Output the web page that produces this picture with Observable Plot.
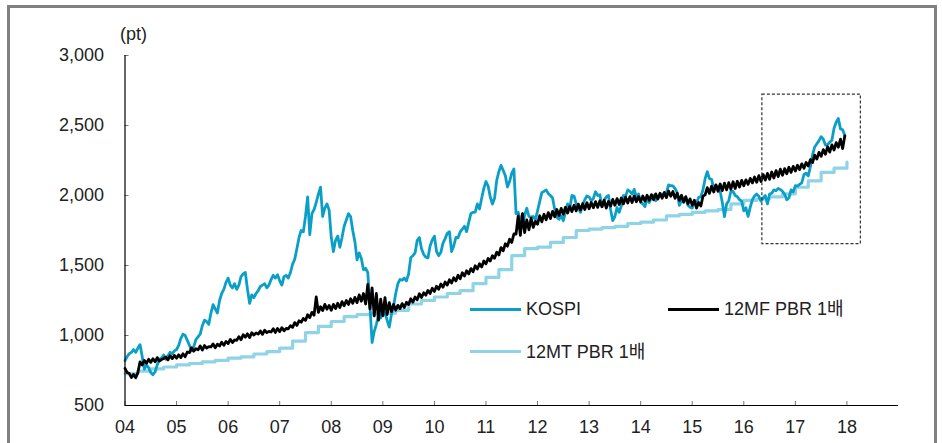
<!DOCTYPE html>
<html><head><meta charset="utf-8">
<script src="https://cdn.jsdelivr.net/npm/d3@7"></script>
<script src="https://cdn.jsdelivr.net/npm/@observablehq/plot@0.6"></script>
<style>
body{margin:0;background:#fff;font-family:"Liberation Sans","Noto Sans CJK KR",sans-serif;}
#wrap{position:relative;width:942px;height:443px;overflow:hidden;background:#fff;}
#frame{position:absolute;left:7px;top:5px;width:924px;height:470px;border:3px solid #808080;box-sizing:content-box;}
#chart{position:absolute;left:0;top:0;}
.lg{position:absolute;height:3px;}
.lt{position:absolute;font-size:18px;line-height:21px;color:#222;white-space:nowrap;}
#unit{position:absolute;left:120px;top:24px;font-size:18px;line-height:21px;color:#222;}
</style></head>
<body>
<div id="wrap">
  <div id="frame"></div>
  <div id="chart"></div>
  <div id="unit">(pt)</div>
</div>
<script>
// ---- data (semi-monthly, 2004.01 ~ 2017.12) ----
const seriesNames = ["KOSPI", "12MF PBR 1배", "12MT PBR 1배"];
const kospi = [
  820,850,870,880,900,880,910,935,850,760,790,770,735,720,740,790,830,840,860,830,855,880,870,890, // 2004
  900,930,980,1010,1000,965,930,890,920,970,990,1010,1070,1110,1100,1080,1160,1220,1190,1160,1250,1300,1330,1380, // 2005
  1410,1360,1340,1370,1330,1360,1420,1440,1450,1330,1230,1290,1270,1300,1320,1350,1360,1370,1340,1360,1400,1430,1410,1434, // 2006
  1390,1360,1420,1430,1410,1450,1510,1545,1620,1700,1750,1740,1850,1990,1720,1870,1900,1950,2010,2060,1850,1910,1940,1897, // 2007
  1700,1600,1680,1710,1630,1700,1780,1825,1870,1850,1750,1670,1540,1590,1550,1470,1480,1450,1210,950,1030,1080,1150,1124, // 2008
  1180,1160,1110,1060,1150,1210,1300,1370,1400,1395,1410,1390,1440,1557,1570,1590,1680,1700,1620,1580,1560,1555,1640,1682, // 2009
  1710,1600,1570,1594,1660,1692,1730,1741,1600,1640,1700,1698,1740,1759,1780,1742,1810,1872,1880,1882,1940,1904,1980,2051, // 2010
  2100,2069,1990,1939,1980,2107,2170,2215,2180,2142,2060,2100,2160,2190,1870,1880,1830,1770,1860,1909,1850,1847,1850,1826, // 2011
  1890,1956,2020,2030,2040,2014,2000,1982,1900,1843,1830,1854,1820,1881,1940,1905,2000,1996,1940,1912,1880,1933,1970,1997, // 2012
  1990,1961,1980,2027,2000,2005,1920,1964,1990,2001,1900,1820,1850,1914,1880,1926,2000,1997,2040,2030,2010,2044,1990,2011, // 2013
  1950,1941,1920,1980,1950,1986,2000,1962,1990,1995,2010,2002,2020,2076,2070,2068,2050,2020,1930,1964,1950,1981,1930,1916, // 2014
  1910,1949,1950,1986,1990,2041,2120,2170,2120,2115,2050,2074,2060,2030,1950,1850,1940,1963,2030,2029,2000,1991,1970,1961, // 2015
  1890,1912,1850,1917,1970,1996,2010,1994,1960,1983,2000,1940,2010,2016,2040,2034,2050,2043,2030,2008,1970,1983,2040,2026, // 2016
  2070,2067,2080,2091,2150,2160,2140,2205,2290,2347,2370,2392,2420,2402,2360,2363,2380,2394,2480,2523,2550,2476,2470,2430  // 2017
];
const mf = [
  765,735,728,700,722,698,735,812,790,822,802,830,808,834,812,842,818,828,836,846,826,856,835,858, // 2004
  838,862,842,870,848,882,878,912,888,905,898,925,896,928,910,920,918,940,912,938,925,952,930,958, // 2005
  942,972,950,968,965,992,970,1005,988,1012,985,1020,1004,1018,1010,1032,1008,1038,1020,1030,1025,1048,1022,1050, // 2006
  1028,1056,1034,1050,1048,1070,1058,1092,1072,1105,1095,1122,1108,1148,1128,1165,1145,1275,1165,1205,1178,1222,1188,1215, // 2007
  1180,1222,1192,1230,1200,1242,1212,1250,1222,1262,1230,1272,1235,1290,1245,1300,1225,1365,1190,1340,1140,1300,1110,1260, // 2008
  1140,1270,1150,1235,1170,1222,1180,1215,1192,1228,1200,1238,1222,1262,1238,1275,1255,1298,1272,1305,1288,1322,1300,1338, // 2009
  1315,1352,1330,1368,1345,1382,1360,1398,1375,1412,1390,1430,1405,1448,1425,1462,1440,1478,1455,1498,1475,1512,1490,1532, // 2010
  1512,1550,1532,1570,1552,1595,1575,1628,1605,1655,1638,1688,1665,1725,1725,1855,1715,1870,1735,1825,1755,1838,1772,1815, // 2011
  1795,1855,1812,1866,1826,1878,1835,1886,1848,1900,1856,1908,1866,1916,1875,1922,1885,1930,1890,1938,1896,1942,1900,1948, // 2012
  1905,1950,1912,1956,1915,1962,1920,1966,1910,1958,1925,1972,1930,1978,1936,1982,1940,1988,1946,1992,1950,1996,1955,1992, // 2013
  1955,1996,1960,2002,1966,2006,1970,2012,1975,2016,1980,2022,1985,2032,1995,2028,1980,2016,1965,2002,1955,1992,1940,1976, // 2014
  1930,1966,1910,1950,1925,1995,2005,2056,2015,2066,2025,2076,2030,2082,2035,2088,2040,2092,2045,2098,2050,2102,2060,2108, // 2015
  2070,2112,2080,2122,2090,2132,2095,2142,2100,2150,2110,2158,2115,2168,2125,2178,2135,2188,2145,2192,2155,2202,2165,2208, // 2016
  2175,2216,2185,2226,2195,2236,2210,2256,2235,2288,2260,2308,2280,2328,2295,2348,2310,2362,2325,2378,2345,2402,2335,2425  // 2017
];
// quarterly steps, 2004Q1 ~ 2017Q4, plus year-end 2017 value
const mt = [
  728,745,762,775, 790,800,812,822, 838,848,868,885, 910,960,1020,1065,
  1100,1135,1150,1155, 1160,1180,1225,1250, 1275,1300,1320,1370, 1415,1470,1570,1620,
  1631,1665,1700,1750, 1760,1770,1780,1800, 1810,1825,1855,1865, 1880,1890,1900,1940,
  1965,1975,1990,2012, 2059,2105,2165,2195, 2238
];
const xTicks = [2004,2005,2006,2007,2008,2009,2010,2011,2012,2013,2014,2015,2016,2017,2018];
const xLabels = ["04","05","06","07","08","09","10","11","12","13","14","15","16","17","18"];
const yTicks = [500,1000,1500,2000,2500,3000];
const zoomBox = [{x1: 2016.36, x2: 2018.27, y1: 1652, y2: 2721}];

const colors = {kospi: "#0b9fc7", mf: "#000000", mt: "#8fd3e6"};

const kospiData = kospi.map((v, i) => ({t: 2004 + i / 24, v}));
const mfData = mf.map((v, i) => ({t: 2004 + i / 24, v}));
const mtData = mt.map((v, i) => ({t: 2004 + i / 4, v}));

const chart = Plot.plot({
  width: 942, height: 443,
  marginLeft: 124.5, marginRight: 44, marginTop: 55, marginBottom: 38,
  x: {domain: [2004, 2019]},
  y: {domain: [500, 3000]},
  style: {fontFamily: '"Liberation Sans","Noto Sans CJK KR",sans-serif', fontSize: "18px", color: "#222", background: "transparent", overflow: "visible"},
  marks: [
    Plot.line(mtData, {x: "t", y: "v", curve: "step-after", stroke: colors.mt, strokeWidth: 3.2}),
    Plot.line(kospiData, {x: "t", y: "v", stroke: colors.kospi, strokeWidth: 2.8, strokeLinejoin: "round"}),
    Plot.line(mfData, {x: "t", y: "v", stroke: colors.mf, strokeWidth: 2.8, strokeLinejoin: "round"}),
    Plot.rect(zoomBox, {x1: "x1", x2: "x2", y1: "y1", y2: "y2", fill: "none", stroke: "#333", strokeWidth: 1.2, strokeDasharray: "3,2"}),
    Plot.ruleX(xTicks, {stroke: "#777", insetTop: 346}),
    Plot.ruleY(yTicks, {stroke: "#777", insetRight: 769.5}),
    Plot.ruleY([500], {stroke: "#000", strokeWidth: 1.2}),
    Plot.ruleX([2004], {stroke: "#000", strokeWidth: 1.2}),
    Plot.axisX({ticks: xTicks, tickSize: 0, tickPadding: 15, fontSize: 18, tickFormat: d => xLabels[xTicks.indexOf(d)], label: null}),
    Plot.axisY({ticks: yTicks, tickSize: 0, tickPadding: 21, fontSize: 18, tickFormat: d3.format(","), label: null})
  ]
});
document.getElementById("chart").appendChild(chart);

// legend
const legendItems = [
  {name: seriesNames[0], color: colors.kospi, left: 470, cy: 309.3},
  {name: seriesNames[1], color: colors.mf, left: 668, cy: 309.3},
  {name: seriesNames[2], color: colors.mt, left: 470, cy: 351.7}
];
const wrap = document.getElementById("wrap");
legendItems.forEach(it => {
  const ln = document.createElement("div");
  ln.className = "lg";
  ln.style.left = it.left + "px";
  ln.style.width = "51px";
  ln.style.top = (it.cy - 1.5) + "px";
  ln.style.background = it.color;
  wrap.appendChild(ln);
  const tx = document.createElement("div");
  tx.className = "lt";
  tx.style.left = (it.left + 56) + "px";
  tx.style.top = (it.cy - 10) + "px";
  tx.textContent = it.name;
  wrap.appendChild(tx);
});
</script>
</body></html>
